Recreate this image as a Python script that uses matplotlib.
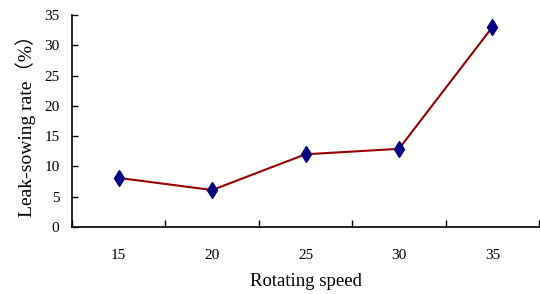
import matplotlib
matplotlib.use("Agg")
import matplotlib.pyplot as plt

categories = ["15", "20", "25", "30", "35"]
values = [8.1, 6.1, 12.0, 12.9, 33.0]
yticks = [0, 5, 10, 15, 20, 25, 30, 35]

fig = plt.figure(figsize=(5.4, 2.94), dpi=100)
ax = fig.add_axes([0.1333, 0.228, 0.865, 0.721])

x = list(range(len(categories)))
ax.plot(x, values, color="#990000", lw=1.5, zorder=2)
ax.plot(x, values, linestyle="none", marker="d", markersize=8, color="#000080",
        markeredgecolor="#000080", zorder=3)

ax.set_xlim(-0.5, len(categories) - 0.5)
ax.set_ylim(0, 35)
ax.set_yticks(yticks)
ax.set_yticklabels([str(v) for v in yticks])
ax.set_xticks(x)
ax.set_xticklabels(categories)
ax.set_xticks([i - 0.5 for i in range(len(categories) + 1)], minor=True)

for s in ["top", "right"]:
    ax.spines[s].set_visible(False)
for s in ["left", "bottom"]:
    ax.spines[s].set_linewidth(1.2)
    ax.spines[s].set_color("black")

ax.tick_params(axis="y", direction="in", length=4, width=1, labelsize=11, pad=9)
ax.tick_params(axis="x", which="major", length=0, labelsize=11, pad=16)
ax.tick_params(axis="x", which="minor", direction="in", length=5, width=1)
for lab in ax.get_xticklabels() + ax.get_yticklabels():
    lab.set_family("Liberation Serif")

ax.set_xlabel("Rotating speed", family="Liberation Serif", fontsize=13.5, labelpad=8)
ax.set_ylabel("Leak-sowing rate（%）", family=["Liberation Serif", "Noto Sans CJK SC"],
              fontsize=14, labelpad=6)

fig.savefig("out.png", dpi=100)
